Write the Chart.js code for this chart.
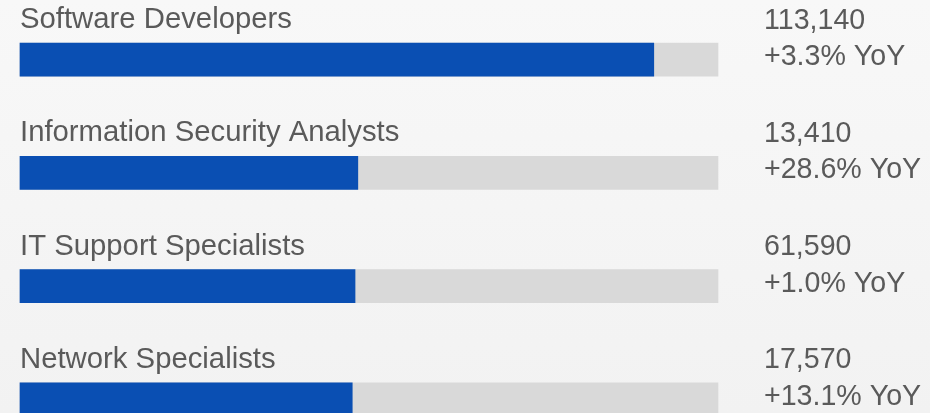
<!DOCTYPE html>
<html>
<head>
<meta charset="utf-8">
<script src="https://cdn.jsdelivr.net/npm/chart.js@4"></script>
<style>
  html, body { margin: 0; padding: 0; }
  body { width: 930px; height: 413px; overflow: hidden; background: linear-gradient(#f8f8f8, #f2f2f2); }
  #wrap { position: relative; width: 930px; height: 413px; }
</style>
</head>
<body>
<div id="wrap"><canvas id="c"></canvas></div>
<script>
const categories = ["Software Developers", "Information Security Analysts", "IT Support Specialists", "Network Specialists"];
const barScores = [90.8, 48.4, 48.0, 47.6];
const trackMax = [100, 100, 100, 100];
const employment = ["113,140", "13,410", "61,590", "17,570"];
const yoyChange = ["+3.3% YoY", "+28.6% YoY", "+1.0% YoY", "+13.1% YoY"];

const textColor = "#5a5a5a";
const fontFamily = "'Liberation Sans', Arial, Helvetica, sans-serif";

const labelPlugin = {
  id: "rowText",
  afterDatasetsDraw(chart) {
    const ctx = chart.ctx;
    const y = chart.scales.y;
    const area = chart.chartArea;
    ctx.save();
    ctx.fillStyle = textColor;
    ctx.textBaseline = "alphabetic";
    ctx.textAlign = "left";
    categories.forEach((cat, i) => {
      const cy = y.getPixelForValue(i);
      ctx.font = "29.3px " + fontFamily;
      ctx.fillText(cat, area.left, cy - 31.5);
      ctx.font = "28.6px " + fontFamily;
      ctx.fillText(employment[i], 764, cy - 31);
      ctx.fillText(yoyChange[i], 764, cy + 5.5);
    });
    ctx.restore();
  }
};

new Chart(document.getElementById("c"), {
  type: "bar",
  data: {
    labels: categories,
    datasets: [
      { data: barScores, backgroundColor: "#0a4fb3", grouped: false, order: 0, barThickness: 33, borderWidth: 0, clip: false },
      { data: trackMax, backgroundColor: "#d9d9d9", grouped: false, order: 1, barThickness: 33, borderWidth: 0, clip: false }
    ]
  },
  options: {
    indexAxis: "y",
    responsive: true,
    maintainAspectRatio: false,
    animation: false,
    layout: { padding: { left: 20, right: 212, top: 59.7, bottom: 13.7 } },
    plugins: { legend: { display: false }, tooltip: { enabled: false } },
    scales: {
      x: { min: 0, max: 100, display: false },
      y: { type: "category", offset: false, display: false }
    }
  },
  plugins: [labelPlugin]
});
</script>
</body>
</html>
